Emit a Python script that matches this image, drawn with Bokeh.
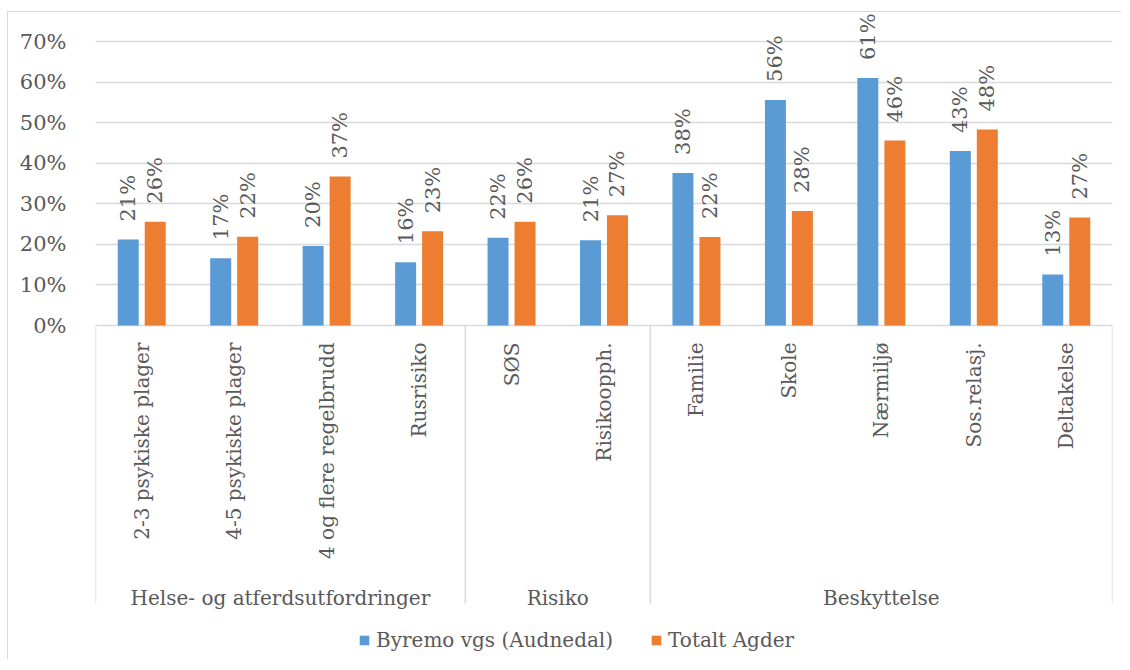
import numpy as np
from math import pi
from bokeh.plotting import figure
from bokeh.models import Range1d, FixedTicker, PrintfTickFormatter, Legend, LegendItem, ColumnDataSource
from bokeh.core.properties import value
from bokeh.embed import file_html
from bokeh.resources import INLINE

# ---------------- data ----------------
categories = ["2-3 psykiske plager", "4-5 psykiske plager", "4 og flere regelbrudd", "Rusrisiko",
              "SØS", "Risikoopph.",
              "Familie", "Skole", "Nærmiljø", "Sos.relasj.", "Deltakelse"]
groups = ["Helse- og atferdsutfordringer", "Risiko", "Beskyttelse"]
group_sizes = [4, 2, 5]
series_names = ["Byremo vgs (Audnedal)", "Totalt Agder"]
byremo = [21.2, 16.6, 19.6, 15.6, 21.6, 21.0, 37.6, 55.6, 61.0, 43.0, 12.6]
agder = [25.6, 21.9, 36.7, 23.2, 25.6, 27.2, 21.8, 28.2, 45.6, 48.3, 26.6]
y_ticks = [0, 10, 20, 30, 40, 50, 60, 70]

# ---------------- style / layout ----------------
FONT = "DejaVu Serif"
TXT = "#595959"
GRID = "#D9D9D9"
BLUE = "#5B9BD5"
ORANGE = "#ED7D31"

W, H = 1114, 648
PAGE_LEFT, PAGE_TOP = 8, 12     # figure position on page (set by CSS margin)
FRAME_TOP = 12                  # page px
FRAME_BOTTOM = PAGE_TOP + H
ZERO_PX, TOP_TICK_PX = 325, 41
ppu = (ZERO_PX - TOP_TICK_PX) / y_ticks[-1]
y_end = y_ticks[-1] + (TOP_TICK_PX - FRAME_TOP) / ppu
y_start = -(FRAME_BOTTOM - ZERO_PX) / ppu
SEP_BOTTOM = -(603 - ZERO_PX) / ppu
CAT_LABEL_Y = -(342 - ZERO_PX) / ppu
GROUP_LABEL_Y = -(597 - ZERO_PX) / ppu
LABEL_GAP = 18 / ppu

n = len(categories)
xc = np.arange(n) + 0.5
OFF, BW = 0.146, 0.227

p = figure(width=W, height=H, output_backend="svg", toolbar_location=None,
           x_range=Range1d(0, n), y_range=Range1d(y_start, y_end),
           x_axis_location=None, min_border_left=95 - PAGE_LEFT, min_border_right=10,
           min_border_top=FRAME_TOP - PAGE_TOP, min_border_bottom=0)
p.outline_line_color = None
p.styles = {"box-shadow": "-1px -1px 0 0 #D9D9D9", "margin": f"{PAGE_TOP}px 0 0 {PAGE_LEFT}px"}

p.xgrid.visible = False
p.ygrid.ticker = FixedTicker(ticks=y_ticks)
p.ygrid.grid_line_color = GRID
p.ygrid.grid_line_width = 1.5

ax = p.yaxis[0]
ax.ticker = FixedTicker(ticks=y_ticks)
ax.formatter = PrintfTickFormatter(format="%d%%")
ax.axis_line_color = None
ax.major_tick_line_color = None
ax.minor_tick_line_color = None
ax.major_label_text_font = FONT
ax.major_label_text_font_size = "21px"
ax.major_label_text_color = TXT
ax.major_label_standoff = 23

src = ColumnDataSource(dict(
    x=xc, xb=xc - OFF, xo=xc + OFF, b=byremo, a=agder,
    lb=[f"{v:.0f}%" for v in byremo], la=[f"{v:.0f}%" for v in agder],
    yb=[v + LABEL_GAP for v in byremo], ya=[v + LABEL_GAP for v in agder],
    cat=categories))

rb = p.vbar(x="xb", top="b", bottom=0, width=BW, source=src, fill_color=BLUE, line_color=None)
ra = p.vbar(x="xo", top="a", bottom=0, width=BW, source=src, fill_color=ORANGE, line_color=None)

for xf, yf, tf in (("xb", "yb", "lb"), ("xo", "ya", "la")):
    p.text(x=xf, y=yf, text=tf, source=src, angle=pi / 2, text_align="left",
           text_baseline="middle", text_font=value(FONT), text_font_size="21px", text_color=TXT)

# category labels
p.text(x="x", y=CAT_LABEL_Y, text="cat", source=src, angle=pi / 2, text_align="right",
       text_baseline="middle", text_font=value(FONT), text_font_size="20px", text_color=TXT)

# group separators and labels
bounds = np.concatenate([[0], np.cumsum(group_sizes)])
p.segment(x0=bounds, y0=0, x1=bounds, y1=SEP_BOTTOM, line_color=GRID, line_width=1.5)
gcent = (bounds[:-1] + bounds[1:]) / 2
p.text(x=gcent, y=GROUP_LABEL_Y, text=groups, text_align="center", text_baseline="alphabetic",
       text_font=value(FONT), text_font_size="20px", text_color=TXT)

legend = Legend(items=[LegendItem(label=series_names[0], renderers=[rb]),
                       LegendItem(label=series_names[1], renderers=[ra])],
                orientation="horizontal", location=(358 - 95, 8), glyph_width=12, glyph_height=12,
                label_standoff=6, spacing=37, padding=0, margin=0, border_line_color=None,
                background_fill_alpha=0, label_text_font=FONT, label_text_font_size="20px",
                label_text_color=TXT)
p.add_layout(legend)

open("out.html", "w").write(file_html(p, INLINE))
